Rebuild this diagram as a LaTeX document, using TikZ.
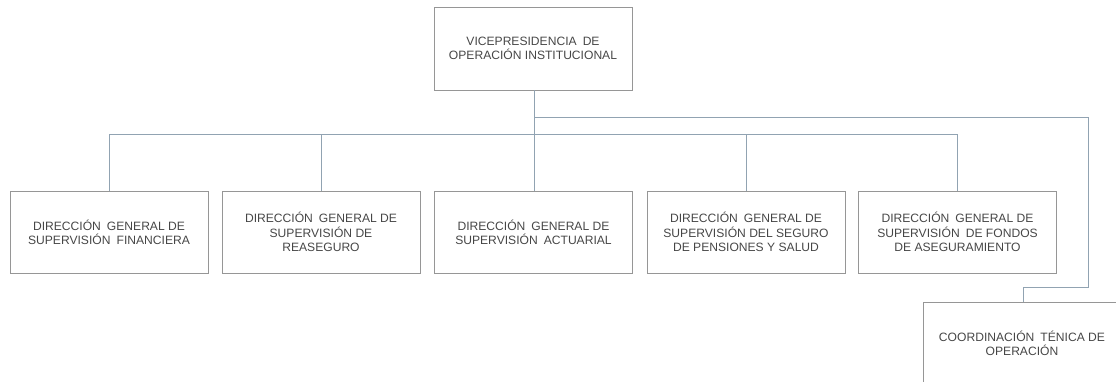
\documentclass[tikz,border=0pt]{standalone}
\usepackage{fontspec}
\setmainfont{Liberation Sans}
\newcommand{\wsp}{\hspace{0.5em}}
\definecolor{linec}{RGB}{145,163,178}
\definecolor{boxc}{RGB}{150,150,150}
\definecolor{txtc}{RGB}{70,70,70}
\begin{document}
\begin{tikzpicture}[x=1pt,y=-1pt,
  orgbox/.style={draw=boxc,line width=0.9pt,minimum width=198pt,minimum height=82pt,inner sep=0pt,
    align=center,text=txtc,font=\fontsize{12.1}{14.3}\selectfont},
  conn/.style={draw=linec,line width=0.9pt}]
\useasboundingbox (0,0) rectangle (1116,381);
\begin{scope}
\clip (0,0) rectangle (1116,381);
\node[orgbox,minimum width=198pt,minimum height=83pt] (vp) at (533,48.5) {VICEPRESIDENCIA\wsp DE\\OPERACIÓN INSTITUCIONAL};
\node[orgbox] (d1) at (109,232) {DIRECCIÓN\wsp GENERAL DE\\SUPERVISIÓN\wsp FINANCIERA};
\node[orgbox] (d2) at (321,232) {DIRECCIÓN\wsp GENERAL DE\\SUPERVISIÓN DE\\REASEGURO};
\node[orgbox] (d3) at (533.5,232) {DIRECCIÓN\wsp GENERAL DE\\SUPERVISIÓN\wsp ACTUARIAL};
\node[orgbox] (d4) at (746,232) {DIRECCIÓN\wsp GENERAL DE\\SUPERVISIÓN DEL SEGURO\\DE PENSIONES Y SALUD};
\node[orgbox] (d5) at (957.5,232) {DIRECCIÓN\wsp GENERAL DE\\SUPERVISIÓN\wsp DE FONDOS\\DE ASEGURAMIENTO};
\node[orgbox] (co) at (1022,343) {COORDINACIÓN\wsp TÉNICA DE\\OPERACIÓN};
\coordinate (h1) at (534,134);
\coordinate (h2) at (534,117);
\draw[conn] (vp.south -| h1) -- (d3.north -| h1);
\draw[conn] (d1.north) -- (d1.north |- h1) -- (d5.north |- h1) -- (d5.north);
\draw[conn] (d2.north) -- (d2.north |- h1);
\draw[conn] (d4.north) -- (d4.north |- h1);
\draw[conn] (h2) -- (1088,117) -- (1088,287) -- (1023,287) -- (co.north -| 1023,0);
\end{scope}
\end{tikzpicture}
\end{document}
